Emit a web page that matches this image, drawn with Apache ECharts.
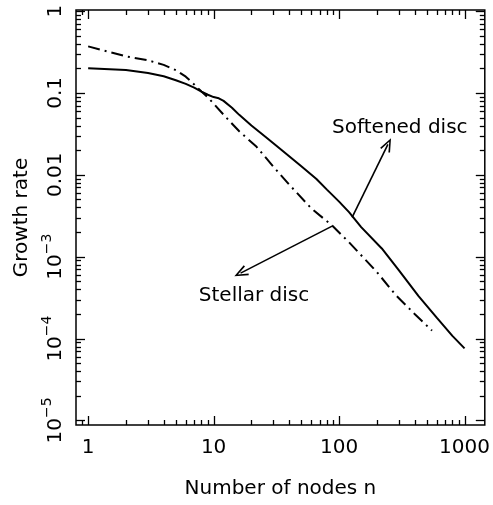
<!DOCTYPE html>
<html>
<head>
<meta charset="utf-8">
<script src="https://cdn.jsdelivr.net/npm/echarts@6/dist/echarts.min.js"></script>
<style>
  html, body { margin: 0; padding: 0; background: #fff; }
  #chart { width: 493px; height: 505px; }
</style>
</head>
<body>
<div id="chart"></div>
<script>
// Growth rate of the unstable mode against number of nodes n
const softenedN = [1, 2, 3, 4, 5, 6, 7, 8, 9, 10, 11, 12, 14, 16, 20, 26, 35, 50, 66, 80, 100, 120, 150, 219, 300, 430, 600, 800, 1000];
const softenedRate = [0.20, 0.19, 0.175, 0.16, 0.143, 0.129, 0.116, 0.104, 0.095, 0.089, 0.086, 0.080, 0.066, 0.054, 0.040, 0.029, 0.020, 0.0127, 0.0089, 0.0066, 0.0047, 0.0035, 0.0023, 0.00126, 0.00068, 0.00033, 0.00018, 0.000108, 0.000076];

const stellarN = [1, 2, 3, 4, 5, 6, 7, 8, 9, 10, 12.6, 16, 22, 30, 40, 60, 88, 120, 200, 283, 400, 550];
const stellarRate = [0.37, 0.28, 0.25, 0.22, 0.19, 0.158, 0.127, 0.104, 0.088, 0.074, 0.050, 0.034, 0.022, 0.0125, 0.0076, 0.0039, 0.0024, 0.0015, 0.00065, 0.00034, 0.0002, 0.000125];

// Axis ranges and tick positions
const xRange = [0.8, 1450];
const yRange = [8.8e-6, 1.03];
const xMajorTicks = [1, 10, 100, 1000];
const xMinorTicks = [0.9, 2, 3, 4, 5, 6, 7, 8, 9, 20, 30, 40, 50, 60, 70, 80, 90, 200, 300, 400, 500, 600, 700, 800, 900];
const yMajorTicks = [1e-5, 1e-4, 1e-3, 0.01, 0.1, 1];
const yMinorTicks = [];
for (const decade of [1e-5, 1e-4, 1e-3, 0.01, 0.1]) {
  for (let k = 2; k <= 9; k++) yMinorTicks.push(+(k * decade).toPrecision(3));
}
const yTickLabels = { '-5': '{b|10}{s|−5}', '-4': '{b|10}{s|−4}', '-3': '{b|10}{s|−3}', '-2': '0.01', '-1': '0.1', '0': '1' };
const xTickLabels = { '0': '1', '1': '10', '2': '100', '3': '1000' };

// Annotations: [n, rate] pairs
const softenedArrow = [[127, 0.00303], [245, 0.0235]];
const stellarArrow = [[88, 0.00236], [16.4, 0.00063]];
const annotationText = [
  [305, 0.038, 'Softened disc'],
  [21, 0.00033, 'Stellar disc']
];

const tickData = [];
xMajorTicks.forEach(v => tickData.push([v, 1, 0, 1]));
xMinorTicks.forEach(v => tickData.push([v, 1, 0, 0]));
yMajorTicks.forEach(v => tickData.push([1, v, 1, 1]));
yMinorTicks.forEach(v => tickData.push([1, v, 1, 0]));

const FONT = 'DejaVu Sans';

function labelFor(map, value) {
  const e = Math.log10(value);
  const r = Math.round(e);
  if (Math.abs(e - r) > 1e-6) return '';
  return map[String(r)] || '';
}

// Inward ticks mirrored on all four sides of the frame
function renderTick(params, api) {
  const cs = params.coordSys;
  const kind = api.value(2);
  const len = api.value(3) ? 9 : 5;
  const style = { stroke: '#000', lineWidth: 1.3 };
  if (kind === 0) {
    const px = Math.round(api.coord([api.value(0), 1])[0]) + 0.5;
    const yb = cs.y + cs.height, yt = cs.y;
    return { type: 'group', children: [
      { type: 'line', shape: { x1: px, y1: yb, x2: px, y2: yb - len }, style },
      { type: 'line', shape: { x1: px, y1: yt, x2: px, y2: yt + len }, style }
    ] };
  }
  const py = Math.round(api.coord([1, api.value(1)])[1]) + 0.5;
  const xl = cs.x, xr = cs.x + cs.width;
  return { type: 'group', children: [
    { type: 'line', shape: { x1: xl, y1: py, x2: xl + len, y2: py }, style },
    { type: 'line', shape: { x1: xr, y1: py, x2: xr - len, y2: py }, style }
  ] };
}

function renderNote(params, api) {
  const p = api.coord([api.value(0), api.value(1)]);
  return {
    type: 'text',
    style: {
      x: p[0], y: p[1], text: annotationText[params.dataIndex][2],
      fill: '#000', font: '20px "' + FONT + '"', align: 'center', verticalAlign: 'middle'
    }
  };
}

const arrowHead = 'path://M5,0 L10,12 L8.6,12.6 L5,3.6 L1.4,12.6 L0,12 Z';

const chart = echarts.init(document.getElementById('chart'), null, { renderer: 'canvas' });
chart.setOption({
  animation: false,
  backgroundColor: '#fff',
  textStyle: { fontFamily: FONT },
  grid: { left: 76, right: 8, top: 10, bottom: 80, show: true, borderColor: '#000', borderWidth: 1.5, backgroundColor: 'transparent' },
  xAxis: {
    type: 'log', logBase: 10, min: xRange[0], max: xRange[1],
    name: 'Number of nodes n', nameLocation: 'middle', nameGap: 54,
    nameTextStyle: { fontFamily: FONT, fontSize: 20, color: '#000' },
    axisLine: { show: false }, axisTick: { show: false }, splitLine: { show: false }, minorTick: { show: false },
    axisLabel: { show: true, margin: 13, fontFamily: FONT, fontSize: 20, color: '#000', showMinLabel: false, showMaxLabel: false,
      formatter: v => labelFor(xTickLabels, v) }
  },
  yAxis: {
    type: 'log', logBase: 10, min: yRange[0], max: yRange[1],
    name: 'Growth rate', nameLocation: 'middle', nameGap: 40, nameRotate: 90,
    nameTextStyle: { fontFamily: FONT, fontSize: 20, color: '#000' },
    axisLine: { show: false }, axisTick: { show: false }, splitLine: { show: false }, minorTick: { show: false },
    axisLabel: { show: true, rotate: 90, margin: 10, fontFamily: FONT, fontSize: 20, color: '#000', showMinLabel: false, showMaxLabel: false,
      formatter: v => labelFor(yTickLabels, v),
      rich: {
        b: { fontFamily: FONT, fontSize: 20, color: '#000', lineHeight: 26, verticalAlign: 'bottom' },
        s: { fontFamily: FONT, fontSize: 14, color: '#000', lineHeight: 26, verticalAlign: 'top' }
      } }
  },
  series: [
    {
      name: 'Softened disc', type: 'line', showSymbol: false, symbol: 'none',
      data: softenedN.map((n, i) => [n, softenedRate[i]]),
      lineStyle: { color: '#000', width: 2, type: 'solid' },
      markLine: {
        silent: true, symbol: ['none', arrowHead], symbolSize: [11, 14],
        label: { show: false },
        lineStyle: { color: '#000', width: 1.6, type: 'solid' },
        data: [
          [{ coord: softenedArrow[0] }, { coord: softenedArrow[1] }],
          [{ coord: stellarArrow[0] }, { coord: stellarArrow[1] }]
        ]
      }
    },
    {
      name: 'Stellar disc', type: 'line', showSymbol: false, symbol: 'none',
      data: stellarN.map((n, i) => [n, stellarRate[i]]),
      lineStyle: { color: '#000', width: 2, type: [12, 5, 2, 5] }
    },
    {
      type: 'custom', silent: true, renderItem: renderNote,
      data: annotationText.map(a => [a[0], a[1]]), clip: false
    },
    {
      type: 'custom', silent: true, renderItem: renderTick, data: tickData, clip: false
    }
  ]
});
</script>
</body>
</html>
